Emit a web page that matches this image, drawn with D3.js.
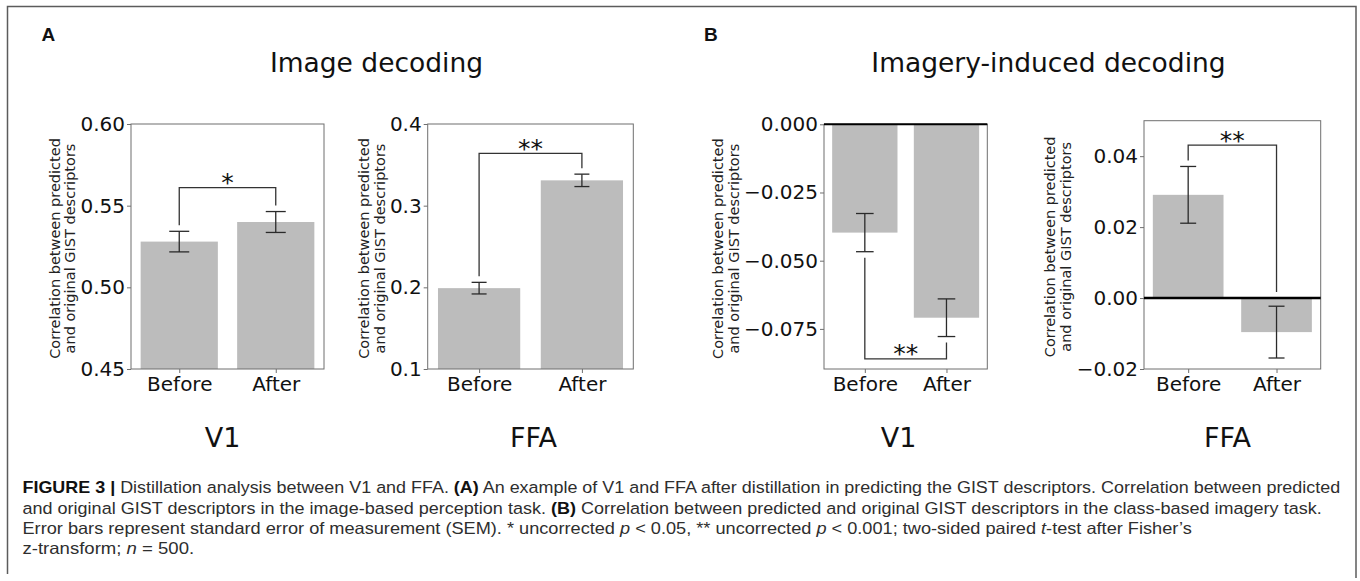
<!DOCTYPE html>
<html><head><meta charset="utf-8">
<script src="https://cdn.jsdelivr.net/npm/d3@7"></script>
<style>html,body{margin:0;padding:0;background:#fff;} svg{display:block;}</style>
</head><body><svg id="chart" width="1360" height="581"></svg>
<script>
// ---------------- data ----------------
const categories = ["Before", "After"];
const imageV1 = [0.528, 0.540];
const imageV1Sem = [0.0063, 0.0064];
const imageFFA = [0.199, 0.331];
const imageFFASem = [0.0071, 0.0076];
const imageryV1 = [-0.0397, -0.0709];
const imageryV1Sem = [0.0070, 0.0069];
const imageryFFA = [0.0291, -0.0096];
const imageryFFASem = [0.0080, 0.0073];

const domainImageV1 = [0.45, 0.60];
const domainImageFFA = [0.1, 0.4];
const domainImageryV1 = [-0.0897, 0];
const domainImageryFFA = [-0.02, 0.05];

const ticksImageV1 = [0.45, 0.50, 0.55, 0.60];
const ticksImageFFA = [0.1, 0.2, 0.3, 0.4];
const ticksImageryV1 = [-0.075, -0.050, -0.025, 0.000];
const ticksImageryFFA = [-0.02, 0.00, 0.02, 0.04];

const sigMarks = ["*", "**", "**", "**"];
const sigLevels = [0.561, 0.364, -0.086, 0.0431];
const regionLabels = ["V1", "FFA", "V1", "FFA"];
const panelLetters = ["A", "B"];
const panelTitles = ["Image decoding", "Imagery-induced decoding"];
const yLabelLines = ["Correlation between predicted", "and original GIST descriptors"];

// ---------------- layout (positions / styles) ----------------
const panels = [
  {values: imageV1, sem: imageV1Sem, domain: domainImageV1, ticks: ticksImageV1, fmt: ".2f",
   x0: 131, x1: 324, y0: 124, y1: 369, cap: 10, labelX: 59.7, regionX: 222.5, dir: "up", zero: 0},
  {values: imageFFA, sem: imageFFASem, domain: domainImageFFA, ticks: ticksImageFFA, fmt: ".1f",
   x0: 427.7, x1: 633.3, y0: 124, y1: 369, cap: 7.5, labelX: 369.3, regionX: 533.5, dir: "up", zero: 0},
  {values: imageryV1, sem: imageryV1Sem, domain: domainImageryV1, ticks: ticksImageryV1, fmt: ".3f",
   x0: 824, x1: 987.3, y0: 124.3, y1: 369, cap: 8.8, labelX: 723.3, regionX: 898.5, dir: "down", zero: 2},
  {values: imageryFFA, sem: imageryFFASem, domain: domainImageryFFA, ticks: ticksImageryFFA, fmt: ".2f",
   x0: 1144, x1: 1320.7, y0: 120.7, y1: 369, cap: 8, labelX: 1055.3, regionX: 1227.5, dir: "up", zero: 2.5}
];

const svg = d3.select("#chart");
const FONT = "'DejaVu Sans', sans-serif";
const BAR = "#bcbcbc", SPINE = "#6f6f6f", ERR = "#2a2a2a";
const defs = svg.append("defs");

// outer frame (top, left, right edges)
svg.append("path").attr("d", "M7.5,574V6.5H1356V578")
  .attr("fill", "none").attr("stroke", "#5c5c5c").attr("stroke-width", 1.5);

// panel letters and titles
svg.append("text").attr("x", 41.5).attr("y", 41).text(panelLetters[0])
  .attr("font-family", "'Liberation Sans', Arial, sans-serif").attr("font-weight", "bold").attr("font-size", 19).attr("fill", "#111");
svg.append("text").attr("x", 704).attr("y", 41).text(panelLetters[1])
  .attr("font-family", "'Liberation Sans', Arial, sans-serif").attr("font-weight", "bold").attr("font-size", 19).attr("fill", "#111");
svg.append("text").attr("x", 376.5).attr("y", 71.5).attr("text-anchor", "middle").text(panelTitles[0])
  .attr("font-family", FONT).attr("font-size", 26.5).attr("fill", "#111");
svg.append("text").attr("x", 1048.5).attr("y", 71.5).attr("text-anchor", "middle").text(panelTitles[1])
  .attr("font-family", FONT).attr("font-size", 26.5).attr("fill", "#111");

panels.forEach((p, pi) => {
  const g = svg.append("g");
  const x = d3.scaleLinear().domain([-0.5, 1.5]).range([p.x0, p.x1]);
  const y = d3.scaleLinear().domain(p.domain).range([p.y1, p.y0]);
  const bw = x(0.8) - x(0);

  const clipId = "clip" + pi;
  defs.append("clipPath").attr("id", clipId).append("rect")
    .attr("x", p.x0).attr("y", p.y0).attr("width", p.x1 - p.x0).attr("height", p.y1 - p.y0);
  const plot = g.append("g").attr("clip-path", `url(#${clipId})`);

  // bars (matplotlib-style: from zero, clipped to the axes)
  plot.selectAll("rect.bar").data(p.values).join("rect").attr("class", "bar")
    .attr("x", (d, i) => x(i) - bw / 2)
    .attr("width", bw)
    .attr("y", d => y(Math.max(d, 0)))
    .attr("height", d => Math.abs(y(d) - y(0)))
    .attr("fill", BAR);

  // error bars
  p.values.forEach((v, i) => {
    const s = p.sem[i], cx = x(i);
    g.append("line").attr("x1", cx).attr("x2", cx).attr("y1", y(v - s)).attr("y2", y(v + s))
      .attr("stroke", ERR).attr("stroke-width", 1.3);
    [v - s, v + s].forEach(e => {
      g.append("line").attr("x1", cx - p.cap).attr("x2", cx + p.cap).attr("y1", y(e)).attr("y2", y(e))
        .attr("stroke", ERR).attr("stroke-width", 1.3);
    });
  });

  // axes box
  g.append("rect").attr("x", p.x0).attr("y", p.y0).attr("width", p.x1 - p.x0).attr("height", p.y1 - p.y0)
    .attr("fill", "none").attr("stroke", SPINE).attr("stroke-width", 1);

  // zero line
  if (p.zero) {
    g.append("line").attr("x1", p.x0).attr("x2", p.x1).attr("y1", y(0)).attr("y2", y(0))
      .attr("stroke", "#000").attr("stroke-width", p.zero);
  }

  // y axis
  const yAxis = d3.axisLeft(y).tickValues(p.ticks).tickFormat(d3.format(p.fmt)).tickSize(4).tickPadding(2);
  const ya = g.append("g").attr("transform", `translate(${p.x0},0)`).call(yAxis);
  ya.select(".domain").remove();
  ya.selectAll("line").attr("stroke", SPINE);
  ya.selectAll("text").attr("font-family", FONT).attr("font-size", 20).attr("fill", "#111");

  // x axis
  const xAxis = d3.axisBottom(x).tickValues([0, 1]).tickFormat(i => categories[i]).tickSize(4).tickPadding(3.5);
  const xa = g.append("g").attr("transform", `translate(0,${p.y1})`).call(xAxis);
  xa.select(".domain").remove();
  xa.selectAll("line").attr("stroke", SPINE);
  xa.selectAll("text").attr("font-family", FONT).attr("font-size", 20).attr("fill", "#111");

  // y label
  const yc = (p.y0 + p.y1) / 2 + 2;
  yLabelLines.forEach((t, li) => {
    g.append("text").attr("transform", `translate(${p.labelX + li * 15.5},${yc}) rotate(-90)`)
      .attr("text-anchor", "middle").attr("font-family", FONT).attr("font-size", 14.5)
      .attr("fill", "#222").text(t);
  });

  // significance bracket
  const gap = 6;
  const level = y(sigLevels[pi]);
  const ends = p.values.map((v, i) => {
    const s = p.sem[i];
    if (p.dir === "up") return y(Math.max(v + s, 0)) - gap;
    return y(Math.min(v - s, 0)) + gap;
  });
  const bx = [x(0), x(1)];
  g.append("path")
    .attr("d", `M${bx[0]},${ends[0]}L${bx[0]},${level}L${bx[1]},${level}L${bx[1]},${ends[1]}`)
    .attr("fill", "none").attr("stroke", "#333").attr("stroke-width", 1.3);
  g.append("text").attr("x", (bx[0] + bx[1]) / 2).attr("y", level + 3.5).attr("text-anchor", "middle")
    .attr("font-family", FONT).attr("font-size", 25).attr("fill", "#111").text(sigMarks[pi]);

  // region label
  svg.append("text").attr("x", p.regionX).attr("y", 447).attr("text-anchor", "middle")
    .attr("font-family", FONT).attr("font-size", 27).attr("fill", "#111").text(regionLabels[pi]);
});

// ---------------- caption ----------------
const captionLines = [
  [["FIGURE 3 | ", "b"], ["Distillation analysis between V1 and FFA. ", ""], ["(A)", "b"], [" An example of V1 and FFA after distillation in predicting the GIST descriptors. Correlation between predicted", ""]],
  [["and original GIST descriptors in the image-based perception task. ", ""], ["(B)", "b"], [" Correlation between predicted and original GIST descriptors in the class-based imagery task.", ""]],
  [["Error bars represent standard error of measurement (SEM). * uncorrected ", ""], ["p", "i"], [" < 0.05, ** uncorrected ", ""], ["p", "i"], [" < 0.001; two-sided paired ", ""], ["t", "i"], ["-test after Fisher\u2019s", ""]],
  [["z-transform; ", ""], ["n", "i"], [" = 500.", ""]]
];
const captionRight = [1339.5, 1321.5, null, 194];
const captionLeft = 22.5;
const texts = [], scales = [];
captionLines.forEach((segs, li) => {
  const t = svg.append("text").attr("x", 0).attr("y", 0)
    .attr("font-family", "'Liberation Sans', Arial, sans-serif").attr("font-size", 16.3).attr("fill", "#2e2e2e");
  segs.forEach(([s, st]) => {
    const ts = t.append("tspan").text(s);
    if (st === "b") ts.attr("font-weight", "bold").attr("fill", "#111");
    if (st === "i") ts.attr("font-style", "italic");
  });
  const w = t.node().getComputedTextLength();
  texts.push(t);
  scales.push(captionRight[li] === null ? null : (captionRight[li] - captionLeft) / w);
});
const known = scales.filter(s => s !== null);
const avgScale = d3.mean(known);
texts.forEach((t, li) => {
  const sx = scales[li] === null ? avgScale : scales[li];
  t.attr("transform", `translate(${captionLeft},${493.3 + li * 20.3}) scale(${sx},1)`);
});
</script></body></html>
